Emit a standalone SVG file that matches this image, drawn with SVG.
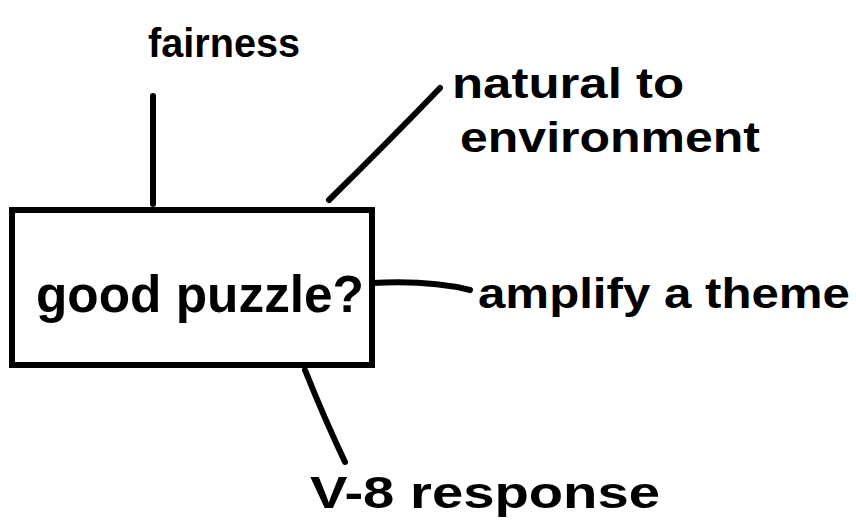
<svg xmlns="http://www.w3.org/2000/svg" width="856" height="529" viewBox="0 0 856 529">
<style>
.t{font-family:"Liberation Sans",Arial,sans-serif;font-weight:bold;fill:#000}
.c{fill:none;stroke:#000;stroke-width:6;stroke-linecap:round}
</style>
<rect width="856" height="529" fill="#fff"/>
<g id="connectors">
<path class="c" d="M153 96 L153 204"/>
<path class="c" d="M440 88 Q390 140 329 200"/>
<path class="c" d="M372 283 Q430 280 470 290"/>
<path class="c" d="M305 370 Q325 420 345 462"/>
</g>
<g id="center">
<rect x="12" y="210" width="360" height="155" fill="none" stroke="#000" stroke-width="6"/>
<text class="t" x="36" y="312" font-size="52" textLength="328" lengthAdjust="spacingAndGlyphs">good puzzle?</text>
</g>
<g id="fairness">
<text class="t" x="148" y="57" font-size="40" textLength="152" lengthAdjust="spacingAndGlyphs">fairness</text>
</g>
<g id="natural">
<text class="t" x="452" y="98" font-size="42" textLength="232" lengthAdjust="spacingAndGlyphs">natural to</text>
<text class="t" x="460" y="152" font-size="42" textLength="300" lengthAdjust="spacingAndGlyphs">environment</text>
</g>
<g id="amplify">
<text class="t" x="478" y="308" font-size="42" textLength="372" lengthAdjust="spacingAndGlyphs">amplify a theme</text>
</g>
<g id="response">
<text class="t" x="310" y="508" font-size="44" textLength="350" lengthAdjust="spacingAndGlyphs">V-8 response</text>
</g>
</svg>
